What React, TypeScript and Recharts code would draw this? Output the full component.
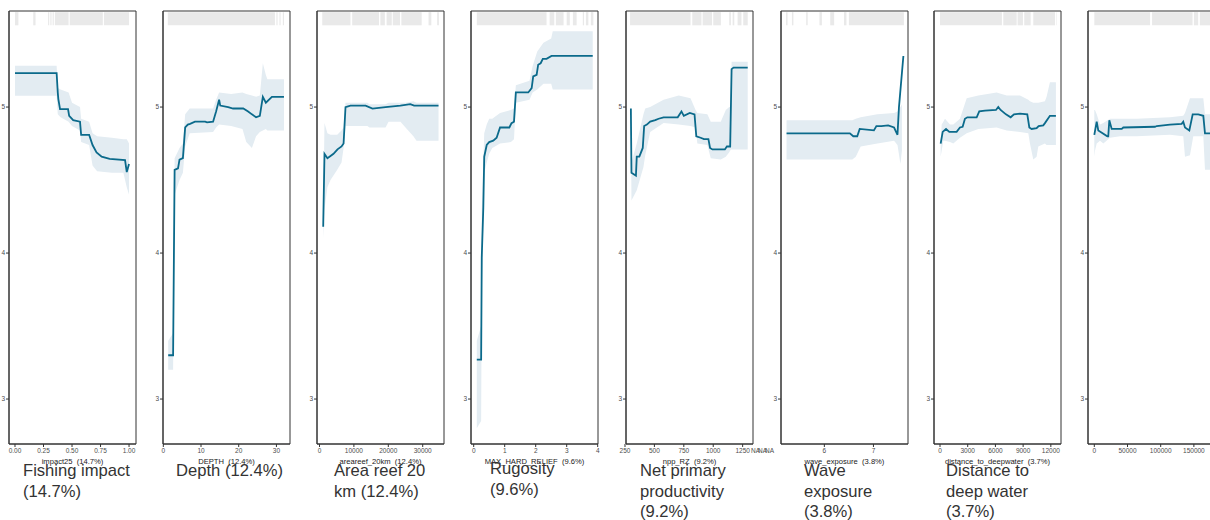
import { ComposedChart, Line, Area, XAxis, YAxis, ReferenceArea } from 'recharts';

// shared y scale (partial dependence, response units)
const Y_DOMAIN: [number, number] = [2.692, 5.658];
const Y_TICKS = [3, 4, 5];
const RUG_LOW = 5.56;
const RUG_HIGH = 5.65;

// ---- fishing impact ----
const impactLine = [
  [0, 5.233], [0.365, 5.233], [0.375, 5.1], [0.38, 5.055], [0.395, 4.986], [0.465, 4.986],
  [0.475, 4.94], [0.51, 4.91], [0.57, 4.9], [0.58, 4.81], [0.65, 4.81], [0.68, 4.74],
  [0.715, 4.69], [0.76, 4.66], [0.83, 4.645], [0.965, 4.637], [0.98, 4.555], [1.0, 4.61],
];
const impactBand = [
  [0, 5.077, 5.283], [0.365, 5.077, 5.283], [0.375, 4.95, 5.13], [0.4, 4.93, 5.12],
  [0.47, 4.9, 5.1], [0.5, 4.87, 5.03], [0.57, 4.84, 5.0], [0.58, 4.76, 4.92], [0.65, 4.74, 4.9],
  [0.68, 4.6, 4.82], [0.72, 4.56, 4.8], [0.85, 4.55, 4.79], [0.95, 4.55, 4.78], [0.98, 4.45, 4.78],
  [1.0, 4.4, 4.75],
];
const impactRug = [
  [0, 0.03], [0.16, 0.18], [0.29, 0.3], [0.31, 0.32], [0.33, 0.34], [0.35, 0.47], [0.48, 0.77], [0.78, 1.0],
];
const impactTicks = [0, 0.25, 0.5, 0.75, 1];

// ---- depth ----
const depthLine = [
  [1.3, 3.3], [2.6, 3.3], [3.0, 4.57], [3.9, 4.58], [4.3, 4.64], [5.2, 4.65], [5.8, 4.86],
  [6.5, 4.88], [7.1, 4.885], [8.4, 4.9], [11.1, 4.9], [11.6, 4.895], [13.2, 4.9], [14.0, 4.97],
  [14.8, 5.05], [15.1, 5.01], [17.2, 5.0], [18.5, 4.99], [21.2, 4.99], [22.5, 4.97], [23.5, 4.95],
  [24.6, 4.93], [25.6, 4.94], [26.4, 5.07], [27.2, 5.03], [28.8, 5.07], [32.0, 5.07],
];
const depthBand = [
  [1.3, 3.2, 3.4], [2.6, 3.2, 3.45], [3.0, 4.4, 4.65], [4.3, 4.5, 4.72], [5.2, 4.55, 4.75],
  [5.8, 4.73, 4.95], [7.0, 4.82, 4.99], [13.2, 4.83, 4.99], [14.0, 4.86, 5.05], [14.8, 4.88, 5.1],
  [18.0, 4.87, 5.09], [21.0, 4.85, 5.1], [22.0, 4.76, 5.09], [23.5, 4.72, 5.08], [24.6, 4.8, 5.07],
  [25.6, 4.83, 5.08], [26.4, 4.84, 5.3], [27.2, 4.85, 5.22], [27.6, 4.84, 5.19], [32.0, 4.84, 5.19],
];
const depthRug = [[1.2, 29.6], [30.0, 30.3], [30.8, 31.1], [31.7, 32.0]];
const depthTicks = [0, 10, 20, 30];

// ---- area reef 20 km ----
const reefLine = [
  [1075, 4.18], [1450, 4.68], [2300, 4.65], [2900, 4.66], [4070, 4.68], [5230, 4.71], [6400, 4.73],
  [7000, 4.75], [7560, 5.0], [9000, 5.01], [13400, 5.01], [15400, 4.99], [19200, 5.0], [23500, 5.01],
  [26400, 5.02], [27500, 5.01], [34600, 5.01],
];
const reefBand = [
  [1075, 4.1, 4.25], [1450, 4.3, 4.89], [2300, 4.45, 4.82], [3200, 4.5, 4.81], [5150, 4.57, 4.81],
  [6400, 4.62, 4.84], [7000, 4.72, 4.86], [7560, 4.87, 5.03], [13950, 4.87, 5.03], [14500, 4.86, 5.02],
  [19200, 4.86, 5.02], [20060, 4.9, 5.03], [23550, 4.9, 5.03], [25000, 4.86, 5.03], [27300, 4.8, 5.04],
  [28200, 4.77, 5.03], [34600, 4.77, 5.03],
];
const reefRug = [
  [800, 9000], [9500, 17300], [17700, 19000], [19500, 21000], [21300, 23400], [23800, 29700],
  [31700, 32500], [34200, 34700],
];
const reefTicks = [0, 10000, 20000, 30000];

// ---- rugosity ----
const reliefLine = [
  [0.1, 3.27], [0.24, 3.27], [0.26, 3.97], [0.31, 4.31], [0.34, 4.66], [0.42, 4.74], [0.5, 4.76],
  [0.63, 4.77], [0.74, 4.79], [0.85, 4.86], [1.15, 4.86], [1.22, 4.89], [1.3, 4.9], [1.36, 5.1],
  [1.76, 5.1], [1.87, 5.13], [1.92, 5.21], [2.03, 5.22], [2.08, 5.29], [2.16, 5.3], [2.23, 5.33],
  [2.35, 5.33], [2.51, 5.35], [3.84, 5.35],
];
const reliefBand = [
  [0.1, 2.8, 3.4], [0.24, 2.85, 3.5], [0.26, 3.7, 4.3], [0.34, 4.55, 4.82], [0.42, 4.62, 4.88],
  [0.5, 4.68, 4.92], [0.6, 4.72, 4.92], [0.85, 4.75, 4.96], [1.2, 4.76, 4.98], [1.3, 4.78, 4.99],
  [1.36, 5.03, 5.15], [1.8, 5.05, 5.18], [1.9, 5.1, 5.28], [2.05, 5.12, 5.38], [2.25, 5.16, 5.44],
  [2.5, 5.16, 5.47], [2.55, 5.12, 5.52], [3.84, 5.12, 5.52],
];
const reliefRug = [
  [0.1, 2.35], [2.45, 2.6], [2.65, 2.9], [3.0, 3.1], [3.2, 3.32], [3.52, 3.56], [3.62, 3.7], [3.78, 3.86],
];
const reliefTicks = [0, 1, 2, 3, 4];

// ---- net primary productivity ----
const nppLine = [
  [300, 4.99], [305, 4.55], [343, 4.53], [350, 4.66], [372, 4.66], [401, 4.72], [413, 4.87],
  [436, 4.88], [464, 4.9], [507, 4.91], [536, 4.92], [578, 4.93], [698, 4.93], [730, 4.97],
  [750, 4.94], [801, 4.96], [841, 4.95], [856, 4.8], [893, 4.79], [921, 4.78], [959, 4.78],
  [973, 4.72], [993, 4.71], [1099, 4.71], [1116, 4.73], [1144, 4.73], [1156, 5.26], [1173, 5.27],
  [1293, 5.27],
];
const nppBand = [
  [300, 4.95, 5.02], [305, 4.36, 4.62], [350, 4.43, 4.75], [407, 4.59, 4.95], [422, 4.67, 4.99],
  [464, 4.83, 5.0], [578, 4.89, 5.05], [707, 4.88, 5.08], [807, 4.87, 5.06], [850, 4.86, 4.98],
  [865, 4.75, 4.96], [950, 4.74, 4.95], [979, 4.65, 4.9], [1064, 4.64, 4.9], [1107, 4.66, 4.98],
  [1136, 4.69, 5.0], [1150, 4.71, 5.0], [1156, 4.71, 5.31], [1293, 4.71, 5.31],
];
const nppRug = [
  [293, 807], [822, 900], [910, 990], [1000, 1065], [1136, 1150], [1165, 1179], [1207, 1240], [1255, 1293],
];
const nppTicks = [250, 500, 750, 1000, 1250];

// ---- wave exposure ----
const waveLine = [
  [5.23, 4.82], [6.52, 4.82], [6.59, 4.8], [6.67, 4.8], [6.72, 4.85], [7.01, 4.84], [7.06, 4.87],
  [7.16, 4.87], [7.3, 4.875], [7.42, 4.86], [7.49, 4.81], [7.52, 5.0], [7.61, 5.35],
];
const waveBand = [
  [5.23, 4.64, 4.91], [6.57, 4.64, 4.91], [6.64, 4.66, 4.92], [6.74, 4.73, 4.93], [7.08, 4.75, 4.95],
  [7.42, 4.77, 4.96], [7.49, 4.74, 4.97], [7.55, 4.61, 5.0], [7.58, 4.7, 5.02],
];
const waveRug = [
  [5.22, 5.25], [5.34, 5.37], [5.63, 5.66], [5.9, 5.95], [6.12, 6.2], [6.4, 6.45], [6.5, 7.62],
];
const waveTicks = [6, 7];

// ---- distance to deep water ----
const deepLine = [
  [70, 4.75], [290, 4.83], [650, 4.85], [1010, 4.83], [1800, 4.83], [2160, 4.86], [2450, 4.865],
  [2700, 4.92], [2960, 4.93], [3970, 4.93], [4250, 4.97], [4870, 4.975], [6060, 4.98], [6310, 5.0],
  [6560, 4.98], [7140, 4.95], [7650, 4.93], [8010, 4.95], [8660, 4.955], [9450, 4.95], [9670, 4.86],
  [9920, 4.85], [10460, 4.855], [10680, 4.87], [11180, 4.875], [11360, 4.89], [11900, 4.94], [12550, 4.94],
];
const deepBand = [
  [70, 4.66, 4.73], [180, 4.7, 4.88], [360, 4.77, 4.9], [540, 4.77, 4.92], [1080, 4.76, 4.88],
  [1440, 4.75, 4.88], [2160, 4.79, 4.92], [2890, 4.82, 5.06], [4150, 4.85, 5.08], [6130, 4.86, 5.1],
  [7220, 4.84, 5.08], [8660, 4.83, 5.08], [9560, 4.82, 5.05], [9740, 4.75, 5.04], [10100, 4.64, 5.03],
  [10460, 4.66, 5.03], [10640, 4.73, 5.03], [11360, 4.75, 5.04], [11540, 4.74, 5.07], [11900, 4.74, 5.17],
  [12550, 4.74, 5.17],
];
const deepRug = [[0, 6700], [6850, 8300], [8400, 8980], [9120, 9810], [10100, 12450], [12600, 12650]];
const deepTicks = [0, 3000, 6000, 9000, 12000];

// ---- eighth panel (cut off at the right edge) ----
const lastLine = [
  [0, 4.81], [3600, 4.9], [6000, 4.84], [19600, 4.8], [21000, 4.8], [22600, 4.91], [26200, 4.85],
  [41300, 4.85], [43700, 4.86], [91400, 4.865], [94000, 4.87], [114000, 4.88], [131600, 4.885],
  [134000, 4.9], [136600, 4.86], [143100, 4.84], [148200, 4.95], [156600, 4.95], [164200, 4.94],
  [166700, 4.82], [178000, 4.82],
];
const lastBand = [
  [0, 4.66, 4.98], [1000, 4.7, 4.98], [3600, 4.75, 4.95], [8600, 4.77, 4.88], [13600, 4.75, 4.89],
  [23600, 4.79, 4.92], [38700, 4.8, 4.92], [63800, 4.8, 4.92], [114000, 4.81, 4.93], [134000, 4.8, 4.94],
  [136600, 4.66, 4.96], [144100, 4.67, 5.06], [149100, 4.8, 5.06], [164200, 4.8, 5.06],
  [166700, 4.57, 4.95], [178000, 4.57, 4.95],
];
const lastRug = [[0, 84000], [87000, 148000], [150000, 156500], [159000, 180000]];
const lastTicks = [0, 50000, 100000, 150000];

const LINE_COLOR = '#0b6a8b';
const BAND_COLOR = '#e3ecf2';
const RUG_COLOR = '#e9e9e9';
const PLOT_W = 127;
const Y_AXIS_W = 9;
const RIGHT_PAD = 8;
const SP = '\u00a0\u00a0';

const panels = [
  { left: 9, domain: [-0.0526, 1.061], line: impactLine, band: impactBand, rug: impactRug, ticks: impactTicks,
    fmt: (v: number) => v.toFixed(2), title: `impact25${SP}(14.7%)`, caption: ['Fishing impact', '(14.7%)'], capLeft: 23 },
  { left: 163, domain: [-0.08, 33.6], line: depthLine, band: depthBand, rug: depthRug, ticks: depthTicks,
    fmt: String, title: `DEPTH${SP}(12.4%)`, caption: ['Depth (12.4%)'], capLeft: 176 },
  { left: 316.5, domain: [-727, 36190], line: reefLine, band: reefBand, rug: reefRug, ticks: reefTicks,
    fmt: String, title: `areareef_20km${SP}(12.4%)`, caption: ['Area reef 20', 'km (12.4%)'], capLeft: 334 },
  { left: 471, domain: [-0.087, 4.01], line: reliefLine, band: reliefBand, rug: reliefRug, ticks: reliefTicks,
    fmt: String, title: `MAX_HARD_RELIEF${SP}(9.6%)`, caption: ['Rugosity', '(9.6%)'], capLeft: 490, capShift: -2 },
  { left: 626, domain: [258.6, 1338], line: nppLine, band: nppBand, rug: nppRug, ticks: nppTicks,
    fmt: String, title: `npp_RZ${SP}(9.2%)`, caption: ['Net primary', 'productivity', '(9.2%)'], capLeft: 640 },
  { left: 781, domain: [5.117, 7.704], line: waveLine, band: waveBand, rug: waveRug, ticks: waveTicks,
    fmt: String, title: `wave_exposure${SP}(3.8%)`, caption: ['Wave', 'exposure', '(3.8%)'], capLeft: 804 },
  { left: 934, domain: [-650, 13100], line: deepLine, band: deepBand, rug: deepRug, ticks: deepTicks,
    fmt: String, title: `distance_to_deepwater${SP}(3.7%)`, caption: ['Distance to', 'deep water', '(3.7%)'], capLeft: 946 },
  { left: 1088, domain: [-9500, 181800], line: lastLine, band: lastBand, rug: lastRug, ticks: lastTicks,
    fmt: String, title: '', caption: [] as string[], capLeft: 1100 },
];

function PdpPanel({ p }: { p: (typeof panels)[number] }) {
  const lineData = p.line.map(([x, y]) => ({ x, y }));
  const bandData = p.band.map(([x, lo, hi]) => ({ x, band: [lo, hi] }));
  return (
    <div style={{ position: 'absolute', left: p.left - Y_AXIS_W, top: 0 }}>
      <ComposedChart
        width={Y_AXIS_W + PLOT_W + RIGHT_PAD}
        height={468}
        margin={{ top: 11, right: RIGHT_PAD, bottom: 0, left: 0 }}
      >
        <XAxis
          dataKey="x"
          type="number"
          domain={p.domain}
          allowDataOverflow
          ticks={p.ticks}
          tickFormatter={p.fmt}
          interval={0}
          height={24}
          tickSize={3}
          tickMargin={1}
          stroke="#333"
          tick={{ fontSize: 6.5, fill: '#4d4d4d' }}
          tickLine={{ stroke: '#333' }}
          label={{ value: p.title, position: 'insideBottom', offset: 4, fontSize: 7.6, fill: '#1a1a1a' }}
        />
        <YAxis
          type="number"
          domain={Y_DOMAIN}
          allowDataOverflow
          ticks={Y_TICKS}
          width={Y_AXIS_W}
          tickSize={3}
          tickMargin={1}
          stroke="#333"
          tick={{ fontSize: 6.5, fill: '#4d4d4d' }}
        />
        {p.rug.map(([a, b], i) => (
          <ReferenceArea key={i} x1={a} x2={b} y1={RUG_LOW} y2={RUG_HIGH} fill={RUG_COLOR} fillOpacity={1} stroke="none" />
        ))}
        <Area
          data={bandData}
          dataKey="band"
          type="linear"
          fill={BAND_COLOR}
          fillOpacity={1}
          stroke="none"
          isAnimationActive={false}
        />
        <Line
          data={lineData}
          dataKey="y"
          type="linear"
          stroke={LINE_COLOR}
          strokeWidth={1.8}
          dot={false}
          isAnimationActive={false}
        />
        <ReferenceArea
          x1={p.domain[0]}
          x2={p.domain[1]}
          y1={Y_DOMAIN[0]}
          y2={Y_DOMAIN[1]}
          fill="none"
          stroke="#333"
          strokeWidth={1}
        />
      </ComposedChart>
    </div>
  );
}

export default function App() {
  return (
    <div
      style={{
        position: 'absolute',
        left: 0,
        top: 0,
        width: 1210,
        height: 520,
        overflow: 'hidden',
        background: '#fff',
        fontFamily: '"Liberation Sans", Arial, sans-serif',
      }}
    >
      {panels.map((p, i) => (
        <PdpPanel key={i} p={p} />
      ))}
      {['NA', 'NA', 'NA'].map((t, i) => (
        <span
          key={i}
          style={{ position: 'absolute', left: 751 + i * 7, top: 447, fontSize: 6.5, color: '#4d4d4d', lineHeight: '8px' }}
        >
          {t}
        </span>
      ))}
      {panels.map((p, i) => (
        <div
          key={'c' + i}
          style={{
            position: 'absolute',
            left: p.capLeft,
            top: 461 + (p.capShift || 0),
            fontSize: 16.6,
            lineHeight: '20.5px',
            color: '#333',
            whiteSpace: 'nowrap',
          }}
        >
          {p.caption.map((c, j) => (
            <div key={j}>{c}</div>
          ))}
        </div>
      ))}
    </div>
  );
}
